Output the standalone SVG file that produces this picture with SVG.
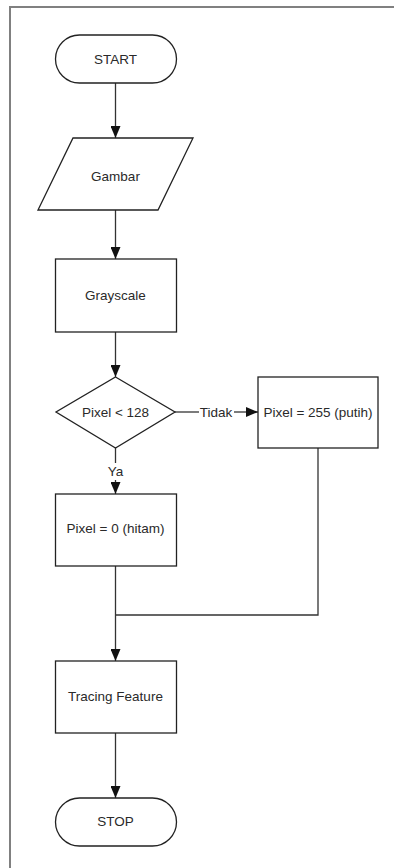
<svg xmlns="http://www.w3.org/2000/svg" width="394" height="868" viewBox="0 0 394 868">
<style>
.s{fill:#fff;stroke:#222;stroke-width:1.3}
.t{font-family:"Liberation Sans",Arial,sans-serif;font-size:13.5px;fill:#2a2a2a;text-anchor:middle;dominant-baseline:central}
.c{fill:none;stroke:#333;stroke-width:1.3}
</style>
<defs>
<marker id="a" viewBox="0 0 12 10" refX="12" refY="5" markerWidth="12" markerHeight="10" markerUnits="userSpaceOnUse" orient="auto"><path d="M0,0L12,5L0,10z" fill="#111"/></marker>
</defs>
<rect width="394" height="868" fill="#fff"/>
<path d="M10,868V7H394" fill="none" stroke="#808080" stroke-width="2"/>
<g id="connectors">
<path class="c" d="M115.5,83V138" marker-end="url(#a)"/>
<path class="c" d="M115.5,210V259" marker-end="url(#a)"/>
<path class="c" d="M115.5,332V377" marker-end="url(#a)"/>
<path class="c" d="M175,412H199"/>
<path class="c" d="M234,412H258" marker-end="url(#a)"/>
<text class="t" x="216" y="412">Tidak</text>
<path class="c" d="M115.5,448V463"/>
<path class="c" d="M115.5,480V494" marker-end="url(#a)"/>
<text class="t" x="115.5" y="471">Ya</text>
<path class="c" d="M318,448V615H115.5"/>
<path class="c" d="M115.5,566V661" marker-end="url(#a)"/>
<path class="c" d="M115.5,733V798" marker-end="url(#a)"/>
</g>
<g id="start"><rect class="s" x="55.5" y="35" width="121" height="48" rx="24"/><text class="t" x="115.5" y="59">START</text></g>
<g id="gambar"><path class="s" d="M73,138H193L158,210H38Z"/><text class="t" x="115.5" y="176">Gambar</text></g>
<g id="grayscale"><rect class="s" x="55.5" y="259" width="121" height="73"/><text class="t" x="115.5" y="295">Grayscale</text></g>
<g id="decision"><path class="s" d="M115.5,377L175,412L115.5,448L56,412Z"/><text class="t" x="115.5" y="412">Pixel &lt; 128</text></g>
<g id="putih"><rect class="s" x="258" y="377" width="120" height="71"/><text class="t" x="318" y="412">Pixel = 255 (putih)</text></g>
<g id="hitam"><rect class="s" x="55.5" y="494" width="121" height="72"/><text class="t" x="115.5" y="528">Pixel = 0 (hitam)</text></g>
<g id="tracing"><rect class="s" x="55.5" y="661" width="121" height="72"/><text class="t" x="115.5" y="696">Tracing Feature</text></g>
<g id="stop"><rect class="s" x="55.5" y="798" width="121" height="48" rx="24"/><text class="t" x="115.5" y="821">STOP</text></g>
</svg>
